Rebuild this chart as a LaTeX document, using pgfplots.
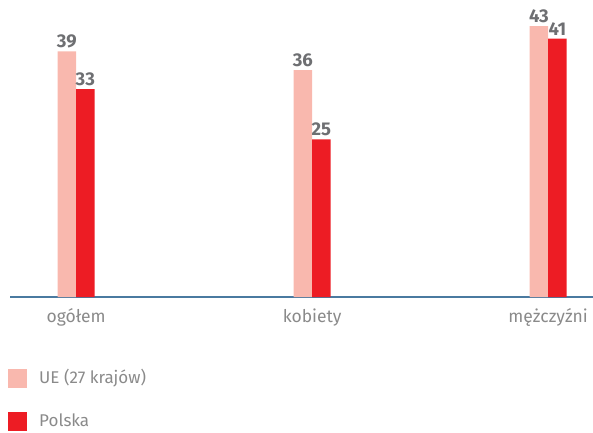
\documentclass[border=0pt]{standalone}
\usepackage{pgfplots}
\pgfplotsset{compat=1.18}
\usepackage{fontspec}
\setmainfont{Fira Sans}
\definecolor{ue}{HTML}{F9B8AE}
\definecolor{pl}{HTML}{ED1C24}
\definecolor{numgray}{HTML}{6E6F72}
\definecolor{txtgray}{HTML}{8A8A8A}
\definecolor{axisblue}{HTML}{4A7AA0}
\begin{document}
\begin{tikzpicture}[x=1pt,y=1pt]
\useasboundingbox (0,0) rectangle (593,432);
\begin{axis}[
  at={(10pt,135pt)}, anchor=south west,
  scale only axis, width=583pt, height=297pt,
  ybar=0pt, bar width=18.5pt,
  xmin=-0.28, xmax=2.19, ymin=0, ymax=47.14,
  axis x line=bottom, axis y line=none,
  x axis line style={-, draw=axisblue, line width=1.2pt},
  xtick={0,1,2}, xticklabels={ogółem,kobiety,mężczyźni},
  major tick length=0pt,
  xticklabel style={font=\fontsize{17.5}{20}\selectfont, text=txtgray, anchor=base, yshift=-25pt},
  /pgf/number format/assume math mode=true,
  nodes near coords,
  nodes near coords style={font=\fontsize{18.5}{20}\selectfont\bfseries, text=numgray, inner sep=0pt, anchor=south, yshift=3pt},
  legend style={at={(-0.0034,-0.2424)}, anchor=north west, draw=none, fill=none,
    inner sep=0pt, row sep=24pt, column sep=12pt,
    font=\fontsize{17}{20}\selectfont, text=txtgray,
    nodes={inner sep=0pt, text height=13pt, text depth=4pt}},
  legend cell align=left,
  legend image code/.code={\fill[#1] (0pt,-9.5pt) rectangle (19pt,9.5pt);},
]
\addplot[fill=ue, draw=none] coordinates {(0,39) (1,36) (2,43)};
\addplot[fill=pl, draw=none] coordinates {(0,33) (1,25) (2,41)};
\legend{UE (27 krajów), Polska}
\end{axis}
\end{tikzpicture}
\end{document}
